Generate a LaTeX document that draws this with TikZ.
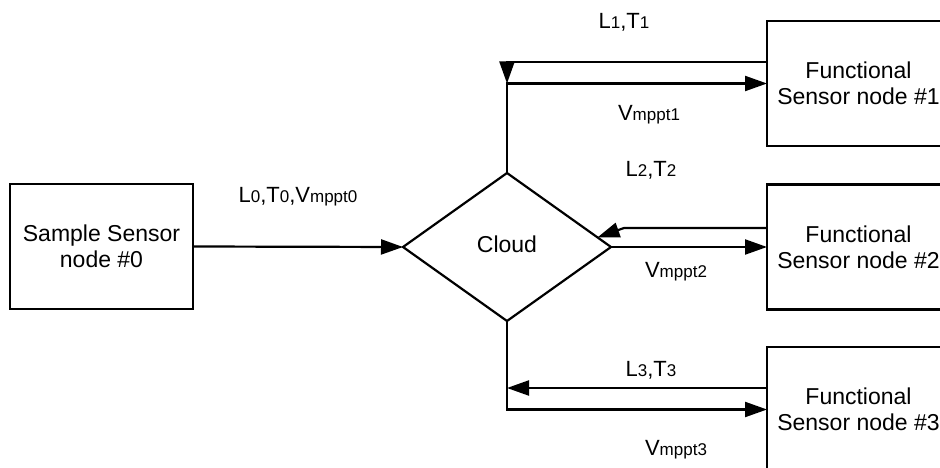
\documentclass[tikz,border=0pt]{standalone}
\usepackage{fontspec}
\setmainfont{Liberation Sans}
\usetikzlibrary{shapes.geometric,arrows.meta,calc}
\newcommand\smtxt[1]{{\fontsize{17}{17}\selectfont #1}}
\begin{document}
\begin{tikzpicture}[x=1pt,y=-1pt,
  every node/.style={font=\fontsize{22}{26}\selectfont, text=black},
  boxnode/.style={draw, line width=2.2pt, rectangle, minimum width=183pt, minimum height=125pt, inner sep=0pt, outer sep=0pt, align=center, font=\fontsize{23}{26}\selectfont},
  dianode/.style={draw, line width=2.2pt, diamond, minimum width=208pt, minimum height=148pt, inner sep=0pt, outer sep=0pt},
  arr/.style={line width=2.2pt, -{Triangle[length=22pt,width=15pt]}},
  lbl/.style={inner sep=0pt}
]
\useasboundingbox (0,0) rectangle (940,468);
\fill[white] (0,0) rectangle (940,468);

\node[boxnode] (s0) at (101.5,246.5) {Sample Sensor\\node \#0};
\node[dianode] (cloud) at (507,247) {};
\node[lbl, font=\fontsize{23}{26}\selectfont] (cloudtxt) at (507,244) {Cloud};
\node[boxnode] (f1) at (858.5,83.5) {Functional\\Sensor node \#1};
\node[boxnode] (f2) at (858.5,247) {Functional\\Sensor node \#2};
\node[boxnode] (f3) at (858.5,409.5) {Functional\\Sensor node \#3};

% sample -> cloud
\draw[arr] (s0.east) -- (cloud.west);

% cloud <-> f1
\coordinate (j1) at (cloud.north |- f1.west);
\coordinate (l1s) at ($(f1.west)+(0,-21.5)$);
\draw[arr] (cloud.north) |- (f1.west);
\draw[arr] (l1s) -| (j1);

% cloud <-> f2
\draw[arr] (cloud.east) -- (f2.west);
\coordinate (l2s) at ($(f2.west)+(0,-19)$);
\coordinate (l2b) at (624,228);
\coordinate (l2e) at ($(cloud.east)!0.13!(cloud.north)$);
\draw[arr] (l2s) -- (l2b) -- (l2e);

% cloud <-> f3
\draw[arr] (cloud.south) |- (f3.west);
\coordinate (l3s) at ($(f3.west)+(0,-21.5)$);
\draw[arr] (l3s) -- (cloud.south |- l3s);

% labels
\node[lbl] (t0) at (298,197) {L\smtxt{0},T\smtxt{0},V\smtxt{mppt0}};
\node[lbl] (t1) at (624,22) {L\smtxt{1},T\smtxt{1}};
\node[lbl] (v1) at (649,115) {V\smtxt{mppt1}};
\node[lbl] (t2) at (651,170) {L\smtxt{2},T\smtxt{2}};
\node[lbl] (v2) at (676,272) {V\smtxt{mppt2}};
\node[lbl] (t3) at (651,370) {L\smtxt{3},T\smtxt{3}};
\node[lbl] (v3) at (676,450) {V\smtxt{mppt3}};
\end{tikzpicture}
\end{document}
